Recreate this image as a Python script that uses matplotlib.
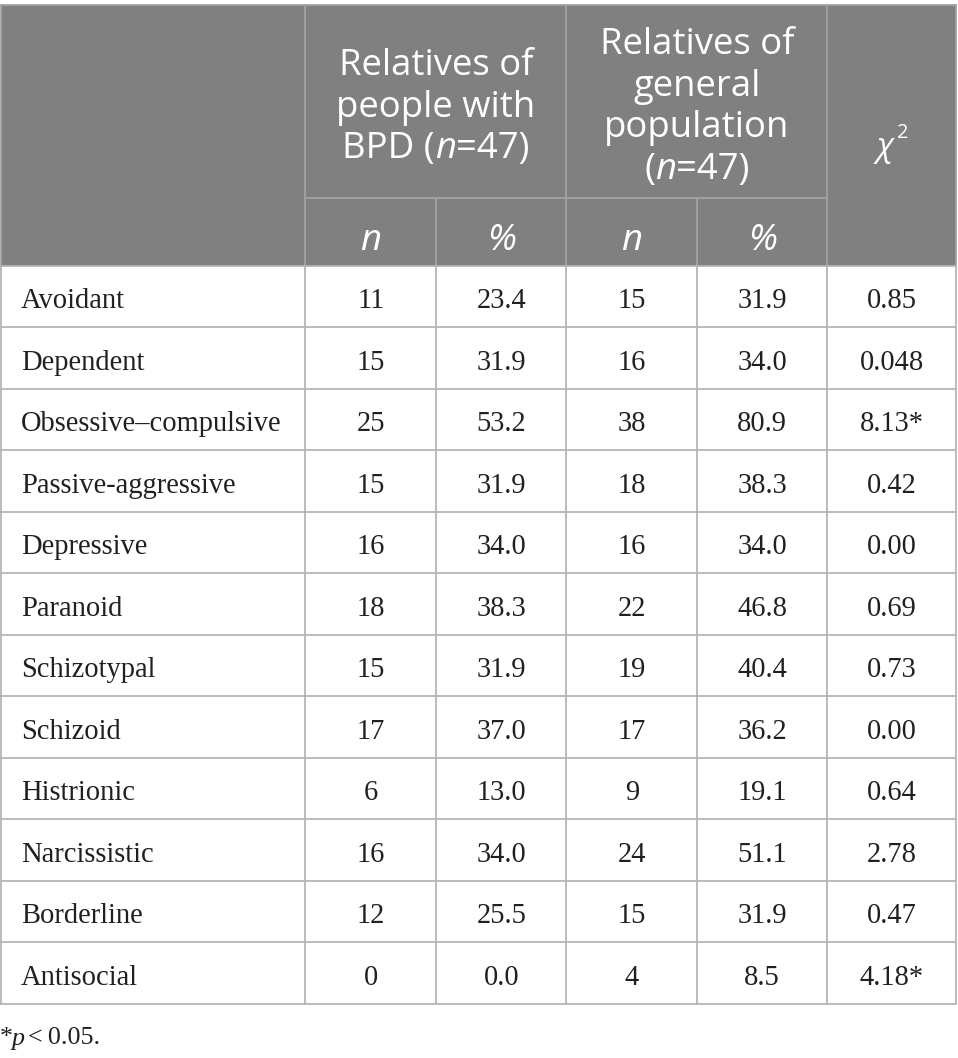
import matplotlib
matplotlib.use("Agg")
import matplotlib.pyplot as plt
from matplotlib.patches import Rectangle

# ---------------- data ----------------
categories = ["Avoidant", "Dependent", "Obsessive\u2013compulsive", "Passive-aggressive",
              "Depressive", "Paranoid", "Schizotypal", "Schizoid", "Histrionic",
              "Narcissistic", "Borderline", "Antisocial"]
bpd_n = ["11", "15", "25", "15", "16", "18", "15", "17", "6", "16", "12", "0"]
bpd_pct = ["23.4", "31.9", "53.2", "31.9", "34.0", "38.3", "31.9", "37.0", "13.0", "34.0", "25.5", "0.0"]
gen_n = ["15", "16", "38", "18", "16", "22", "19", "17", "9", "24", "15", "4"]
gen_pct = ["31.9", "34.0", "80.9", "38.3", "34.0", "46.8", "40.4", "36.2", "19.1", "51.1", "31.9", "8.5"]
chi2 = ["0.85", "0.048", "8.13*", "0.42", "0.00", "0.69", "0.73", "0.00", "0.64", "2.78", "0.47", "4.18*"]

# ---------------- layout ----------------
W, H = 958, 1058
DPI = 100
fig = plt.figure(figsize=(W / DPI, H / DPI), dpi=DPI)
ax = fig.add_axes([0, 0, 1, 1])
ax.set_xlim(0, W)
ax.set_ylim(H, 0)
ax.axis("off")

col_x = [0.5, 305.5, 436, 566.5, 697, 827.5, 956.5]
top, mid, hdr_bot = 4.5, 197.5, 265.5
row_h = 61.5
n_rows = len(categories)
bot = hdr_bot + n_rows * row_h

HDR = "#7f807f"
LINE_BODY = "#b5b5b5"
LINE_HDR = "#a3a3a3"
TXT = "#231f20"

ax.add_patch(Rectangle((col_x[0], top), col_x[-1] - col_x[0], hdr_bot - top,
                       facecolor=HDR, edgecolor="none", zorder=0))

lw = 1.3
# header lines
ax.plot([col_x[0], col_x[-1]], [top, top], color=LINE_HDR, lw=lw)
ax.plot([col_x[1], col_x[5]], [mid, mid], color=LINE_HDR, lw=lw)
for i, x in enumerate(col_x):
    if i in (0, 1, 3, 5, 6):
        ax.plot([x, x], [top, hdr_bot], color=LINE_HDR, lw=lw)
    else:
        ax.plot([x, x], [mid, hdr_bot], color=LINE_HDR, lw=lw)
# body lines
for r in range(n_rows + 1):
    y = hdr_bot + r * row_h
    ax.plot([col_x[0], col_x[-1]], [y, y], color=LINE_BODY, lw=lw)
for x in col_x:
    ax.plot([x, x], [hdr_bot, bot], color=LINE_BODY, lw=lw)

PX = 72 / DPI
SANS = "Open Sans"
SERIF = "Liberation Serif"
hdr_fs = 36.5 * PX
body_fs = 28.5 * PX
foot_fs = 26 * PX

renderer = fig.canvas.get_renderer()


def runs(xc, yc, parts):
    """parts: list of (text, kwargs). Drawn in sequence, centered at xc."""
    objs, widths = [], []
    for t, kw in parts:
        o = ax.text(0, yc, t, va="center_baseline", ha="left", **kw)
        objs.append(o)
        widths.append(o.get_window_extent(renderer=renderer).width)
    x = xc - sum(widths) / 2
    for o, w in zip(objs, widths):
        o.set_x(x)
        x += w
    return objs


hw = dict(color="white", fontsize=hdr_fs, family=SANS)
hwi = dict(color="white", fontsize=hdr_fs, family=SANS, style="italic")
lh = 41.5

# group 1 header
c1 = (col_x[1] + col_x[3]) / 2
y1c = 103
runs(c1, y1c - lh, [("Relatives of", hw)])
runs(c1, y1c, [("people with", hw)])
runs(c1, y1c + lh, [("BPD (", hw), ("n", hwi), ("=47)", hw)])

# group 2 header
c2 = (col_x[3] + col_x[5]) / 2
y2c = 103
runs(c2, y2c - 1.5 * lh, [("Relatives of", hw)])
runs(c2, y2c - 0.5 * lh, [("general", hw)])
runs(c2, y2c + 0.5 * lh, [("population", hw)])
runs(c2, y2c + 1.5 * lh, [("(", hw), ("n", hwi), ("=47)", hw)])

# chi-square header
c3 = (col_x[5] + col_x[6]) / 2
ycc = 143
ax.text(c3 - 7, ycc, "\u03c7", color="white", fontsize=33 * PX, family=SANS,
        style="italic", ha="center", va="center_baseline")
ax.text(c3 + 5, ycc - 13, "2", color="white", fontsize=20 * PX, family=SANS,
        ha="left", va="center_baseline")

# sub-headers
ysub = (mid + hdr_bot) / 2 + 5
for i, lab in enumerate(["n", "%", "n", "%"]):
    xc = (col_x[i + 1] + col_x[i + 2]) / 2
    ax.text(xc, ysub, lab, color="white", fontsize=hdr_fs, family=SANS, style="italic",
            ha="center", va="center_baseline")

# body
bk = dict(color=TXT, fontsize=body_fs, family=SERIF)
for r in range(n_rows):
    yc = hdr_bot + (r + 0.5) * row_h + 2
    ax.text(21, yc, categories[r], ha="left", va="center_baseline", **bk)
    for j, col in enumerate([bpd_n, bpd_pct, gen_n, gen_pct, chi2]):
        xc = (col_x[j + 1] + col_x[j + 2]) / 2
        ax.text(xc, yc, col[r], ha="center", va="center_baseline", **bk)

# footnote
fy = 1036
o1 = ax.text(0, fy, "*", ha="left", va="center_baseline", color=TXT,
             fontsize=foot_fs, family=SERIF)
x = o1.get_window_extent(renderer=renderer).width - 1
o2 = ax.text(x, fy, "p", ha="left", va="center_baseline", color=TXT,
             fontsize=foot_fs, family=SERIF, style="italic")
x += o2.get_window_extent(renderer=renderer).width + 3
ax.text(x, fy, "<\u20090.05.", ha="left", va="center_baseline", color=TXT,
        fontsize=foot_fs, family=SERIF)

fig.savefig("out.png", dpi=DPI, facecolor="white")
